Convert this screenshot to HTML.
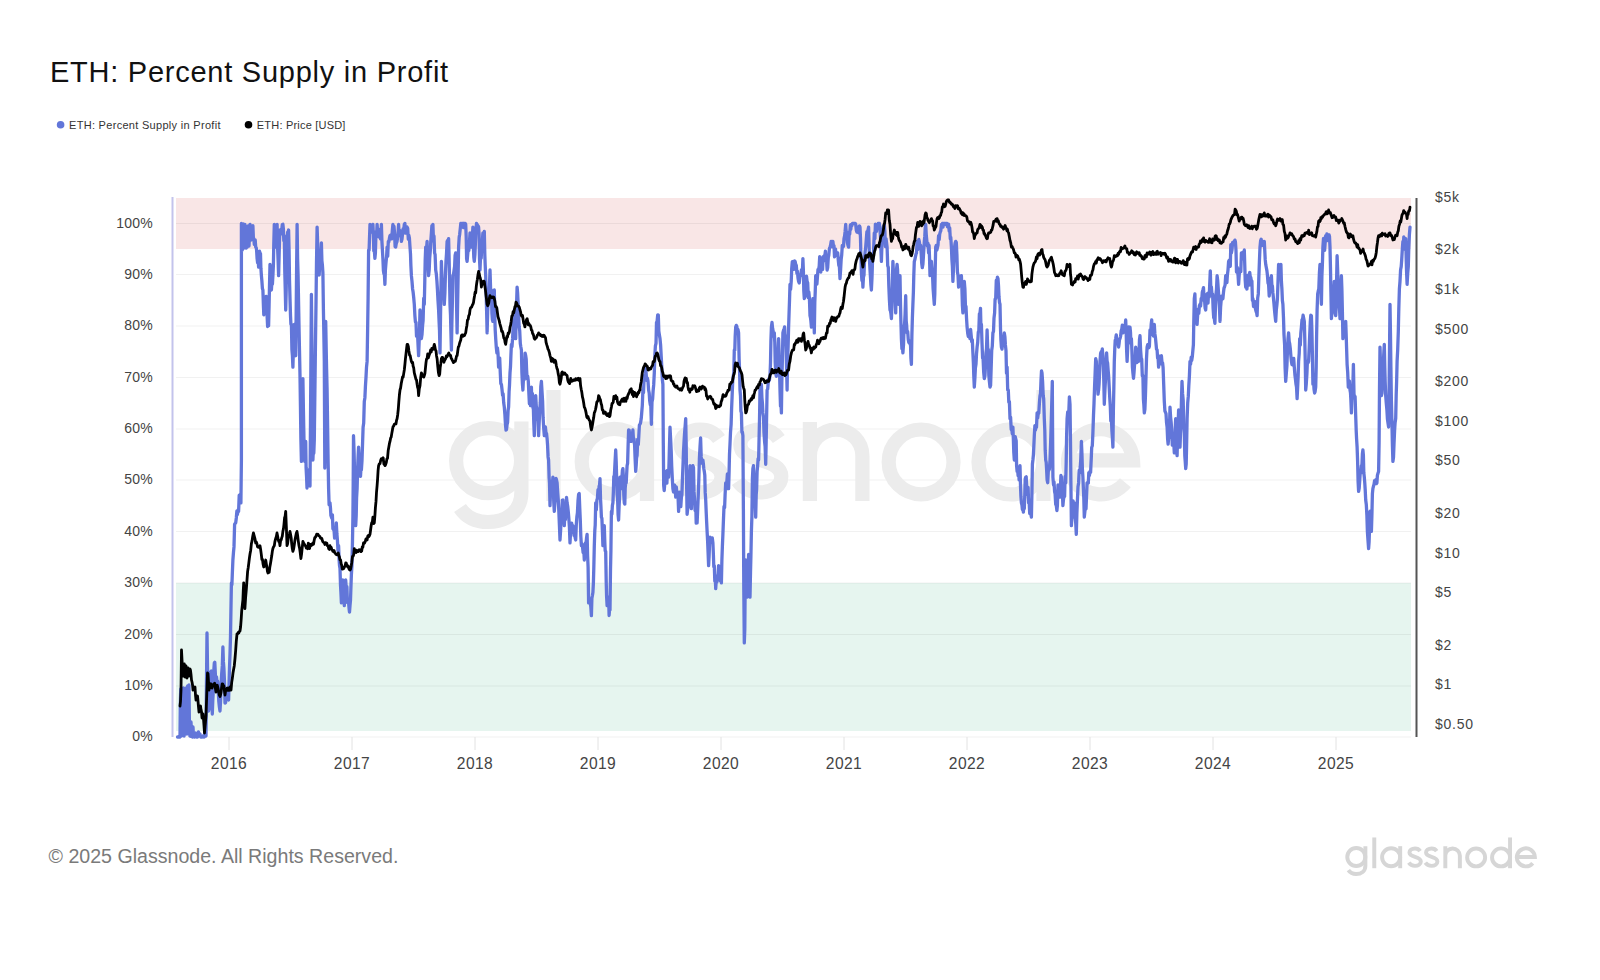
<!DOCTYPE html>
<html><head><meta charset="utf-8">
<style>
html,body{margin:0;padding:0;background:#fff;width:1600px;height:980px;overflow:hidden;}
body{font-family:"Liberation Sans",sans-serif;position:relative;}
svg{position:absolute;left:0;top:0;}
</style></head><body>
<svg width="1600" height="980" viewBox="0 0 1600 980" font-family="Liberation Sans, sans-serif">
<!-- title -->
<text x="50" y="82.3" font-size="29" fill="#111" letter-spacing="0.75">ETH: Percent Supply in Profit</text>
<!-- legend -->
<circle cx="60.6" cy="124.8" r="3.8" fill="#6276d9"/>
<text x="69" y="128.5" font-size="11" fill="#333" letter-spacing="0.3">ETH: Percent Supply in Profit</text>
<circle cx="248.5" cy="124.8" r="3.8" fill="#000"/>
<text x="256.8" y="128.5" font-size="11" fill="#333" letter-spacing="0.2">ETH: Price [USD]</text>

<!-- bands -->
<rect x="176" y="198" width="1235" height="51" fill="#f9e6e6"/>
<rect x="176" y="583" width="1235" height="148" fill="#e6f5ef"/>
<!-- gridlines -->
<g stroke="#000" stroke-opacity="0.055" stroke-width="1">
<line x1="176" y1="223.5" x2="1411" y2="223.5"/>
<line x1="176" y1="274.5" x2="1411" y2="274.5"/>
<line x1="176" y1="326" x2="1411" y2="326"/>
<line x1="176" y1="377.5" x2="1411" y2="377.5"/>
<line x1="176" y1="429" x2="1411" y2="429"/>
<line x1="176" y1="480" x2="1411" y2="480"/>
<line x1="176" y1="531.5" x2="1411" y2="531.5"/>
<line x1="176" y1="583" x2="1411" y2="583"/>
<line x1="176" y1="634.5" x2="1411" y2="634.5"/>
<line x1="176" y1="686" x2="1411" y2="686"/>
<line x1="176" y1="737" x2="1411" y2="737"/>
</g>
<!-- x ticks -->
<g stroke="#e2e2e2" stroke-width="1">
<line x1="229" y1="737" x2="229" y2="750"/>
<line x1="352" y1="737" x2="352" y2="750"/>
<line x1="475" y1="737" x2="475" y2="750"/>
<line x1="598" y1="737" x2="598" y2="750"/>
<line x1="721" y1="737" x2="721" y2="750"/>
<line x1="844" y1="737" x2="844" y2="750"/>
<line x1="967" y1="737" x2="967" y2="750"/>
<line x1="1090" y1="737" x2="1090" y2="750"/>
<line x1="1213" y1="737" x2="1213" y2="750"/>
<line x1="1336" y1="737" x2="1336" y2="750"/>
</g>
<!-- watermark -->
<defs><g id="gn" fill="none" stroke-width="14.2">
<circle cx="488.6" cy="460.7" r="32.5"/>
<path d="M521.4 421.4V492C521.4 512 506 522 488 522C476 522 466 517 460 508"/>
<path d="M553.5 390V501"/>
<circle cx="614.3" cy="461.5" r="32.6"/>
<path d="M647 421.4V501"/>
<path d="M719 439C715 433 708 429.6 700.5 429.6C689 429.6 680.5 436 680.5 444.5C680.5 454 690 457 700.5 460C712 463.5 721.5 467 721.5 476.5C721.5 486 712 492.4 700.5 492.4C690 492.4 682 487 678 481"/>
<path d="M778.8 439C774.8 433 767.8 429.6 760.3 429.6C748.8 429.6 740.3 436 740.3 444.5C740.3 454 749.8 457 760.3 460C771.8 463.5 781.3 467 781.3 476.5C781.3 486 771.8 492.4 760.3 492.4C749.8 492.4 741.8 487 737.8 481"/>
<path d="M809.9 422V501M809.9 455.9A26.25 26.25 0 0 1 862.4 455.9V501"/>
<circle cx="921.1" cy="461.9" r="32.4"/>
<circle cx="1011" cy="461.9" r="32.5"/>
<path d="M1043.5 390V501"/>
<path d="M1068 460.3H1133A32.5 32.5 0 1 0 1125.4 482.8"/>
</g></defs>
<use href="#gn" stroke="#ececec"/>

<!-- axes -->
<line x1="172.5" y1="197" x2="172.5" y2="737" stroke="#c3c3ec" stroke-width="2"/>
<line x1="1416.5" y1="198" x2="1416.5" y2="737" stroke="#555" stroke-width="2"/>

<!-- left labels -->
<g font-size="14" fill="#444" text-anchor="end" letter-spacing="0.25">
<text x="153" y="227.5">100%</text>
<text x="153" y="279">90%</text>
<text x="153" y="330.4">80%</text>
<text x="153" y="381.7">70%</text>
<text x="153" y="433">60%</text>
<text x="153" y="484.4">50%</text>
<text x="153" y="535.8">40%</text>
<text x="153" y="587.1">30%</text>
<text x="153" y="638.5">20%</text>
<text x="153" y="689.8">10%</text>
<text x="153" y="741.2">0%</text>
</g>
<!-- right labels -->
<g font-size="14" fill="#444" letter-spacing="0.75">
<text x="1435" y="202">$5k</text>
<text x="1435" y="254.4">$2k</text>
<text x="1435" y="294">$1k</text>
<text x="1435" y="333.6">$500</text>
<text x="1435" y="386">$200</text>
<text x="1435" y="425.7">$100</text>
<text x="1435" y="465.4">$50</text>
<text x="1435" y="517.8">$20</text>
<text x="1435" y="557.5">$10</text>
<text x="1435" y="597.2">$5</text>
<text x="1435" y="649.6">$2</text>
<text x="1435" y="689.3">$1</text>
<text x="1435" y="729">$0.50</text>
</g>
<!-- x labels -->
<g font-size="15.6" fill="#444" text-anchor="middle" letter-spacing="0.4">
<text x="229" y="769.4">2016</text>
<text x="352" y="769.4">2017</text>
<text x="475" y="769.4">2018</text>
<text x="598" y="769.4">2019</text>
<text x="721" y="769.4">2020</text>
<text x="844" y="769.4">2021</text>
<text x="967" y="769.4">2022</text>
<text x="1090" y="769.4">2023</text>
<text x="1213" y="769.4">2024</text>
<text x="1336" y="769.4">2025</text>
</g>

<!-- DATA -->
<path d="M177.5 737.0L178.0 737.0L178.5 737.0L179.0 737.0L179.5 736.0L180.0 737.0L180.3 707.0L180.7 689.0L181.0 709.7L181.3 736.0L181.7 706.5L182.0 690.0L182.3 701.6L182.7 734.0L183.1 706.8L183.4 688.0L183.8 710.6L184.1 736.0L184.4 715.0L184.8 690.0L185.2 706.4L185.5 730.0L185.8 707.2L186.2 688.0L186.6 709.8L186.9 734.0L187.2 701.9L187.6 686.0L187.9 704.1L188.3 725.0L188.7 705.9L189.0 685.0L189.4 722.9L189.9 736.0L190.4 736.2L191.0 722.0L191.5 731.9L192.0 736.0L192.5 737.0L193.0 727.0L193.5 736.3L194.0 736.0L194.5 737.0L195.0 736.1L195.5 735.7L196.0 733.0L196.5 737.0L197.0 737.0L197.5 737.0L198.0 736.0L198.5 732.0L199.0 735.5L199.5 735.1L200.0 734.0L200.6 737.0L201.2 737.0L201.8 737.0L202.4 737.0L203.0 736.0L203.6 737.0L204.2 737.0L204.8 732.9L205.4 732.4L206.0 736.0L206.5 680.2L207.0 633.0L207.5 666.8L208.1 688.4L208.6 711.0L209.2 708.0L209.7 700.6L210.3 688.4L210.8 671.9L211.4 671.0L211.9 693.8L212.3 714.0L212.8 699.9L213.3 691.4L213.8 670.7L214.3 663.0L214.8 662.3L215.4 674.9L215.9 684.1L216.5 677.0L217.0 683.0L217.6 681.0L218.2 690.2L218.8 701.4L219.4 707.0L220.0 711.0L220.6 700.5L221.2 681.6L221.7 673.6L222.3 665.9L222.9 647.0L223.4 661.9L223.9 668.3L224.5 681.8L225.0 703.0L225.6 702.7L226.2 693.4L226.8 696.8L227.4 693.7L228.0 696.2L228.6 700.0L229.1 681.3L229.5 667.7L230.0 654.0L230.5 637.0L230.9 612.1L231.4 583.0L231.9 584.7L232.4 571.7L232.9 560.0L233.5 552.2L234.0 546.9L234.6 524.4L235.1 523.5L235.7 522.9L236.3 518.0L236.9 510.8L237.4 514.6L238.0 510.2L238.6 511.4L239.2 495.2L239.8 499.1L240.3 496.1L240.9 502.9L241.4 460.0L241.4 223.4L241.9 229.4L242.3 250.0L242.8 232.7L243.2 224.0L243.6 240.1L244.0 248.0L244.4 238.7L244.9 224.3L245.4 235.8L245.8 245.0L246.2 248.2L246.7 238.6L247.1 247.1L247.6 238.8L248.0 226.0L248.5 231.8L249.0 246.0L249.5 235.2L250.0 224.3L250.5 226.6L251.0 240.0L251.5 228.7L251.9 227.0L252.4 235.8L252.9 225.7L253.4 238.7L253.8 238.5L254.3 244.3L254.8 244.0L255.2 239.8L255.7 247.1L256.2 247.6L256.6 250.2L257.1 258.6L257.6 262.8L258.1 258.1L258.6 267.1L259.1 257.6L259.5 251.1L260.0 252.9L260.5 253.6L260.9 268.2L261.4 275.7L261.9 281.2L262.4 288.5L262.9 290.0L263.4 305.2L263.8 314.8L264.3 312.9L264.8 306.0L265.2 305.0L265.7 298.6L266.2 296.3L266.6 305.7L267.1 315.7L267.6 326.5L268.1 325.1L268.6 325.7L269.1 304.8L269.5 285.4L270.0 264.3L270.5 273.3L270.9 281.8L271.4 290.0L271.9 281.6L272.4 284.1L272.9 275.7L273.4 264.8L273.8 243.5L274.3 224.3L274.8 234.5L275.2 244.1L275.7 247.1L276.2 247.0L276.6 237.6L277.1 224.3L277.6 247.8L278.1 260.4L278.6 275.7L279.1 256.0L279.5 240.5L280.0 230.0L280.6 231.6L281.2 234.0L281.7 230.4L282.3 224.5L282.9 224.3L283.4 229.2L283.8 240.8L284.3 235.7L284.8 271.7L285.2 287.4L285.7 310.0L286.2 289.9L286.6 261.2L287.1 247.1L287.6 232.3L288.1 232.1L288.6 230.0L289.1 251.2L289.5 279.7L290.0 298.6L290.5 315.5L290.9 324.1L291.4 324.3L291.9 349.3L292.4 355.5L292.9 367.1L293.4 348.5L293.8 338.9L294.3 324.3L294.8 348.3L295.2 353.8L295.7 355.7L296.2 310.4L296.6 268.6L297.1 224.3L297.6 258.3L298.1 276.1L298.6 304.3L299.1 331.4L299.5 350.5L300.0 375.7L300.5 409.9L300.9 439.6L301.4 461.4L301.9 438.7L302.4 418.6L302.9 378.6L303.4 409.4L303.8 430.6L304.3 458.6L304.8 461.5L305.2 447.1L305.7 441.4L306.1 467.9L306.6 477.7L307.0 488.0L307.5 479.5L308.1 474.7L308.6 470.0L309.1 475.3L309.5 481.7L310.0 486.0L310.5 421.6L310.9 363.4L311.4 294.3L311.9 340.5L312.4 397.5L312.9 460.0L313.4 448.4L313.8 453.3L314.3 440.0L314.9 390.8L315.4 349.8L316.0 304.0L316.5 262.2L317.1 227.1L317.6 241.8L318.1 259.4L318.6 272.9L319.2 275.0L319.7 262.0L320.3 256.8L320.8 255.7L321.4 242.9L321.9 260.8L322.4 265.2L322.9 272.9L323.4 309.2L323.8 330.7L324.3 361.4L324.8 468.0L325.2 403.1L325.7 321.4L326.2 349.2L326.6 369.1L327.1 390.0L327.6 425.2L328.1 461.1L328.6 488.6L329.1 504.8L329.5 503.1L330.0 502.9L330.5 508.3L330.9 515.6L331.4 517.1L331.9 518.2L332.4 514.9L332.9 528.6L333.5 529.6L334.0 529.7L334.6 538.2L335.1 532.5L335.7 537.1L336.3 522.9L336.9 534.0L337.4 539.8L338.0 550.7L338.6 545.7L339.1 559.3L339.5 565.5L340.0 568.6L340.5 585.2L340.9 592.2L341.4 602.9L341.9 596.0L342.4 581.3L342.9 580.0L343.4 588.0L343.8 592.8L344.3 605.7L344.8 592.7L345.2 589.9L345.7 580.0L346.3 589.8L346.9 586.7L347.4 602.5L348.0 599.8L348.6 602.9L349.1 608.7L349.5 612.0L350.0 605.7L350.5 600.0L350.9 588.0L351.4 574.3L351.9 565.8L352.4 545.9L352.9 517.1L353.2 483.5L353.5 435.7L354.1 452.6L354.6 474.2L355.1 505.8L355.7 525.7L356.2 515.6L356.6 497.3L357.1 488.6L357.6 469.7L358.1 456.9L358.6 447.1L359.1 456.1L359.5 465.0L360.0 470.0L360.5 476.3L360.9 469.1L361.4 470.0L362.0 460.7L362.6 442.3L363.1 427.2L363.7 423.0L364.3 401.4L364.9 397.7L365.4 386.9L366.0 377.1L366.5 367.3L367.1 361.4L367.6 331.0L368.1 297.4L368.6 250.0L369.1 250.1L369.5 238.1L370.0 224.3L370.6 232.2L371.2 227.8L371.7 228.3L372.3 228.3L372.9 224.3L373.4 235.3L373.8 250.9L374.3 250.0L374.9 258.4L375.4 253.1L376.0 231.7L376.5 237.2L377.1 224.3L377.7 233.4L378.3 229.2L378.8 230.1L379.4 237.2L380.0 232.9L380.5 238.9L380.9 235.9L381.4 224.3L381.9 240.8L382.4 249.9L382.9 258.6L383.4 270.5L383.9 273.8L384.4 274.5L384.9 284.3L385.4 270.2L386.0 262.6L386.6 256.5L387.1 247.1L387.7 256.2L388.3 241.4L388.8 242.1L389.4 238.4L390.0 235.7L390.6 235.1L391.2 238.8L391.7 238.9L392.3 230.8L392.9 224.3L393.5 228.2L394.0 226.3L394.6 234.0L395.1 246.8L395.7 247.1L396.3 243.3L396.9 241.9L397.4 238.9L398.0 233.6L398.6 224.3L399.2 235.5L399.7 234.5L400.3 232.1L400.8 230.9L401.4 241.4L402.0 239.1L402.6 233.3L403.1 229.0L403.7 230.8L404.3 224.3L404.9 223.4L405.4 233.1L406.0 233.1L406.5 227.5L407.1 227.1L407.7 228.4L408.3 239.2L408.8 235.2L409.4 238.0L410.0 247.1L410.5 254.1L410.9 265.9L411.4 275.7L412.0 281.4L412.6 289.0L413.1 292.0L413.7 297.5L414.3 304.3L414.9 315.8L415.4 321.9L416.0 322.3L416.5 336.2L417.1 332.9L417.6 335.0L418.1 345.8L418.6 355.7L419.1 342.7L419.5 331.2L420.0 310.0L420.5 323.1L420.9 328.9L421.4 338.6L422.0 334.6L422.6 325.3L423.1 320.6L423.7 298.2L424.3 304.3L424.8 280.6L425.2 259.9L425.7 247.1L426.2 246.8L426.6 247.8L427.1 241.4L427.6 258.7L428.1 265.2L428.6 275.7L429.2 269.8L429.7 258.2L430.3 250.9L430.8 241.2L431.4 232.9L431.9 225.6L432.4 234.8L432.9 224.3L433.5 240.9L434.0 236.0L434.6 252.9L435.1 254.5L435.7 270.0L436.3 273.7L436.9 280.9L437.4 288.8L438.0 300.6L438.6 310.0L439.1 322.0L439.5 330.2L440.0 352.9L440.5 318.2L440.9 291.6L441.4 261.4L442.0 278.7L442.6 280.8L443.1 282.3L443.7 291.4L444.3 304.3L444.9 292.8L445.4 275.3L446.0 261.0L446.5 254.0L447.1 241.4L447.6 240.4L448.1 240.6L448.6 238.6L449.1 257.9L449.5 277.0L450.0 304.3L450.5 315.2L450.9 331.8L451.4 350.0L451.9 322.1L452.4 301.1L452.9 275.7L453.5 274.2L454.0 270.8L454.6 266.5L455.1 255.3L455.7 252.9L456.2 272.9L456.6 306.9L457.1 332.9L457.6 304.7L458.1 276.5L458.6 247.1L459.2 237.1L459.7 234.2L460.3 228.4L460.8 223.4L461.4 224.3L461.9 223.4L462.5 223.4L463.0 223.4L463.5 227.7L464.1 223.4L464.6 223.8L465.2 223.4L465.7 224.3L466.2 237.2L466.6 258.6L467.1 261.4L467.7 254.3L468.3 248.2L468.8 250.5L469.4 243.5L470.0 232.9L470.5 240.7L470.9 233.7L471.4 247.1L471.9 235.3L472.4 235.8L472.9 227.1L473.4 246.7L473.8 257.3L474.3 261.4L474.9 254.7L475.4 243.5L476.0 228.5L476.5 223.4L477.1 224.3L477.6 225.5L478.1 225.7L478.6 227.1L479.1 234.5L479.5 258.8L480.0 270.0L480.6 255.8L481.2 258.1L481.7 247.6L482.3 241.9L482.9 232.9L483.4 236.6L483.8 235.3L484.3 231.4L484.8 254.2L485.2 265.0L485.7 275.7L486.2 295.2L486.6 310.7L487.1 332.9L487.7 311.5L488.3 299.9L488.8 296.1L489.4 287.2L490.0 270.0L490.5 285.9L490.9 301.6L491.4 290.0L491.9 313.2L492.4 319.8L492.9 321.4L493.4 308.8L493.8 298.2L494.3 290.0L494.8 316.0L495.2 330.0L495.7 338.6L496.3 347.4L496.9 353.1L497.4 347.8L498.0 353.3L498.6 367.1L499.2 359.9L499.7 358.0L500.3 373.3L500.8 383.6L501.4 384.3L502.0 389.4L502.6 395.4L503.1 393.9L503.7 402.8L504.3 407.1L504.9 414.5L505.4 423.6L506.0 430.0L506.5 429.6L507.1 424.3L507.6 422.3L508.1 410.6L508.6 407.1L509.1 391.5L509.5 385.3L510.0 372.9L510.5 366.7L510.9 355.6L511.4 344.3L512.0 346.6L512.6 338.4L513.1 327.7L513.7 317.9L514.3 310.0L514.8 320.4L515.2 324.8L515.7 338.6L516.2 314.4L516.6 302.5L517.1 287.1L517.6 292.8L518.1 302.9L518.6 315.7L519.2 327.0L519.7 330.7L520.3 343.5L520.8 346.7L521.4 350.0L521.9 372.7L522.4 383.7L522.9 390.0L523.5 377.9L524.0 379.8L524.6 370.2L525.1 353.1L525.7 355.7L526.2 359.2L526.6 369.7L527.1 378.6L527.7 376.1L528.3 381.1L528.8 391.7L529.4 403.6L530.0 401.4L530.5 405.7L530.9 402.5L531.4 387.1L531.9 404.7L532.4 393.5L532.9 407.1L533.4 409.5L533.8 423.5L534.3 435.7L534.8 407.6L535.2 405.5L535.7 395.7L536.3 406.4L536.9 409.2L537.4 416.5L538.0 421.4L538.6 435.7L539.2 421.6L539.7 412.2L540.3 402.2L540.8 386.7L541.4 381.4L542.0 391.4L542.6 401.0L543.1 417.7L543.7 428.2L544.3 435.7L544.9 430.6L545.4 426.8L546.0 432.8L546.5 433.3L547.1 438.6L547.6 445.7L548.1 456.9L548.6 460.0L549.1 477.3L549.5 483.1L550.0 505.7L550.6 490.3L551.2 492.3L551.7 482.3L552.3 485.2L552.9 477.1L553.4 489.3L553.8 502.9L554.3 511.4L554.9 502.8L555.4 498.0L556.0 478.5L556.5 479.7L557.1 482.9L557.7 492.7L558.3 500.5L558.8 510.3L559.4 524.9L560.0 540.0L560.6 530.5L561.2 519.2L561.7 517.0L562.3 500.3L562.9 500.0L563.4 510.3L563.8 511.0L564.3 525.7L564.9 513.9L565.4 519.6L566.0 508.6L566.5 497.5L567.1 502.9L567.7 506.3L568.3 512.0L568.8 517.9L569.4 526.9L570.0 542.9L570.6 531.7L571.2 527.3L571.7 523.1L572.3 532.4L572.9 525.7L573.5 526.9L574.0 535.4L574.6 529.3L575.1 537.3L575.7 540.0L576.3 524.7L576.9 516.4L577.4 513.1L578.0 501.0L578.6 494.3L579.2 493.6L579.7 506.6L580.3 520.2L580.8 535.8L581.4 545.7L582.0 543.8L582.6 547.5L583.1 552.6L583.7 548.1L584.3 560.0L584.9 549.8L585.4 543.0L586.0 543.4L586.5 538.3L587.1 534.3L587.6 555.8L588.1 567.3L588.6 602.9L589.2 598.5L589.7 602.7L590.3 603.2L590.8 606.9L591.4 615.7L591.9 598.1L592.4 595.5L592.9 592.5L593.4 582.9L593.8 568.0L594.3 545.7L594.8 530.7L595.2 525.2L595.7 502.9L596.3 510.0L596.9 500.0L597.4 498.4L598.0 489.6L598.6 497.1L599.1 486.0L599.5 485.9L600.0 478.6L600.5 498.3L600.9 505.6L601.4 517.1L601.9 518.4L602.4 531.2L602.9 545.7L603.4 543.3L603.8 535.2L604.3 525.7L604.8 542.1L605.2 550.9L605.7 551.4L606.2 581.3L606.6 596.5L607.1 605.7L607.6 604.0L608.1 602.8L608.6 597.1L609.1 615.5L609.5 610.2L610.0 610.0L610.5 570.1L610.9 551.3L611.4 511.4L611.9 514.1L612.4 505.4L612.9 502.9L613.4 491.1L613.8 476.4L614.3 477.1L614.8 466.9L615.2 459.2L615.7 450.0L616.2 461.7L616.6 475.9L617.1 494.3L617.6 498.9L618.1 514.8L618.6 520.0L619.1 506.5L619.5 498.7L620.0 477.1L620.5 480.4L620.9 481.4L621.4 488.6L621.9 477.9L622.4 470.5L622.9 468.6L623.4 477.2L623.8 495.2L624.3 502.9L624.8 504.1L625.2 488.2L625.7 482.9L626.2 482.9L626.6 474.8L627.1 465.7L627.6 463.4L628.1 445.9L628.6 430.0L629.2 430.1L629.7 437.4L630.3 441.4L630.8 439.1L631.4 441.4L631.9 437.7L632.4 434.5L632.9 430.0L633.5 440.2L634.0 438.9L634.6 445.0L635.1 458.5L635.7 471.4L636.2 465.1L636.6 457.8L637.1 455.7L637.7 439.1L638.3 444.7L638.8 436.1L639.4 425.0L640.0 424.3L640.6 422.6L641.2 418.8L641.7 413.0L642.3 405.7L642.9 390.0L643.5 392.7L644.0 379.6L644.6 375.8L645.1 373.2L645.7 367.1L646.3 375.6L646.9 380.6L647.4 378.0L648.0 381.0L648.6 390.0L649.2 393.0L649.7 400.8L650.3 404.8L650.8 405.4L651.4 424.3L652.0 401.9L652.6 399.2L653.1 391.2L653.7 384.9L654.3 372.9L654.9 354.0L655.4 345.9L656.0 343.3L656.5 322.5L657.1 321.4L657.7 314.8L658.3 315.0L658.8 331.1L659.4 335.0L660.0 338.6L660.6 344.8L661.2 356.2L661.7 365.2L662.3 379.3L662.9 384.3L663.3 442.9L663.7 485.7L664.2 490.7L664.7 484.5L665.2 481.8L665.7 471.4L666.3 480.0L666.9 483.2L667.4 470.4L668.0 475.5L668.6 477.1L669.1 460.6L669.5 444.6L670.0 427.1L670.6 438.6L671.2 450.9L671.7 466.1L672.3 478.3L672.9 488.6L673.5 492.0L674.0 487.5L674.6 485.2L675.1 487.4L675.7 497.1L676.3 487.0L676.9 493.8L677.4 496.9L678.0 495.2L678.6 511.4L679.2 492.2L679.7 495.1L680.3 494.7L680.8 506.7L681.4 497.1L681.9 495.0L682.5 477.4L683.0 465.1L683.5 451.5L684.1 440.9L684.6 432.9L685.2 425.5L685.7 418.6L686.2 445.9L686.6 484.2L687.1 514.3L687.7 508.7L688.3 506.7L688.8 484.5L689.4 478.5L690.0 465.7L690.5 479.7L690.9 486.1L691.4 508.6L691.9 488.7L692.4 469.0L692.9 465.7L693.5 467.5L694.0 491.4L694.6 500.0L695.1 510.5L695.7 502.9L696.2 523.1L696.6 515.2L697.1 522.9L697.7 509.3L698.3 494.1L698.8 480.3L699.4 458.5L700.0 447.1L700.6 437.9L701.2 456.9L701.7 463.1L702.3 463.1L702.9 460.0L703.4 464.2L703.8 468.7L704.3 471.4L704.8 475.3L705.2 492.4L705.7 500.0L706.2 512.3L706.6 521.1L707.1 531.4L707.6 540.8L708.1 552.9L708.6 565.7L709.1 556.1L709.5 544.6L710.0 537.1L710.6 542.1L711.2 542.4L711.7 541.6L712.3 537.9L712.9 542.9L713.4 554.7L713.8 566.7L714.3 565.7L714.8 581.1L715.2 575.6L715.7 588.6L716.3 579.6L716.9 582.2L717.4 576.4L718.0 577.4L718.6 565.7L719.2 570.5L719.7 577.3L720.3 581.0L720.8 569.7L721.4 582.9L721.9 559.8L722.4 545.9L722.9 534.3L723.5 518.6L724.0 506.5L724.6 507.8L725.1 494.8L725.7 482.9L726.3 488.8L726.9 480.9L727.4 473.8L728.0 478.8L728.6 488.6L729.1 471.4L729.5 454.1L730.0 444.0L730.5 432.5L731.1 424.6L731.6 408.6L732.1 396.6L732.7 381.4L733.2 377.0L733.8 372.3L734.3 350.0L734.8 350.1L735.2 336.1L735.7 327.1L736.3 325.4L736.9 326.6L737.4 333.6L738.0 329.5L738.6 332.9L739.1 358.2L739.5 368.0L740.0 390.0L740.5 396.1L740.9 411.1L741.4 412.9L741.9 432.3L742.4 432.0L742.9 435.7L743.4 510.7L743.8 589.4L744.3 642.9L744.8 628.9L745.2 583.5L745.7 560.0L746.2 571.7L746.6 596.3L747.1 597.1L747.6 582.8L748.1 573.1L748.6 554.3L749.1 560.4L749.5 586.7L750.0 597.1L750.5 572.9L750.9 556.2L751.4 531.4L751.9 516.5L752.4 478.6L752.9 468.6L753.5 465.7L754.0 483.3L754.6 487.8L755.1 502.3L755.7 517.1L756.2 494.6L756.6 489.7L757.1 471.4L757.6 466.6L758.1 458.7L758.6 460.0L759.1 437.3L759.5 419.8L760.0 390.0L760.5 390.5L760.9 388.8L761.4 384.3L761.9 397.6L762.4 402.8L762.9 412.9L763.5 417.0L764.0 433.0L764.6 441.7L765.1 446.2L765.7 464.3L766.2 439.9L766.6 417.1L767.1 390.0L767.7 389.0L768.3 381.5L768.8 378.9L769.4 380.3L770.0 375.7L770.5 362.8L770.9 340.8L771.4 327.1L772.0 322.5L772.6 328.3L773.1 330.9L773.7 336.2L774.3 332.9L774.8 342.6L775.2 362.4L775.7 372.9L776.3 376.3L776.9 369.0L777.4 357.9L778.0 352.8L778.6 338.6L779.1 353.0L779.5 369.3L780.0 390.0L780.5 406.1L780.9 401.3L781.4 412.9L781.9 378.5L782.4 359.8L782.9 332.9L783.5 330.3L784.0 329.6L784.6 326.8L785.1 339.7L785.7 335.7L786.2 353.0L786.6 370.1L787.1 390.0L787.6 359.1L788.1 346.9L788.6 327.1L789.1 312.2L789.5 300.8L790.0 284.3L790.6 289.3L791.2 281.6L791.7 269.0L792.3 261.6L792.9 264.3L793.5 261.3L794.0 269.4L794.6 260.9L795.1 261.4L795.7 264.3L796.3 265.5L796.9 273.3L797.4 271.2L798.0 277.9L798.6 281.4L799.2 283.0L799.7 278.6L800.3 274.9L800.8 275.6L801.4 270.0L801.9 270.7L802.4 271.0L802.9 258.6L803.4 270.8L803.8 290.9L804.3 298.6L804.9 296.8L805.4 286.9L806.0 283.1L806.5 276.1L807.1 281.4L807.7 282.9L808.3 297.6L808.8 292.0L809.4 297.9L810.0 315.7L810.5 317.9L810.9 321.0L811.4 327.1L811.9 320.4L812.4 302.9L812.9 298.6L813.4 307.2L813.8 307.0L814.3 332.9L814.8 302.4L815.2 292.7L815.7 275.7L816.3 279.6L816.9 284.1L817.4 277.3L818.0 269.3L818.6 270.0L819.2 266.0L819.7 256.7L820.3 267.8L820.8 272.0L821.4 264.3L822.0 261.3L822.6 269.4L823.1 256.6L823.7 259.0L824.3 255.7L824.9 255.3L825.4 251.1L826.0 261.1L826.5 259.8L827.1 270.0L827.7 267.7L828.3 257.5L828.8 255.1L829.4 248.7L830.0 247.1L830.6 245.2L831.2 241.3L831.7 246.0L832.3 246.8L832.9 241.4L833.4 245.6L834.0 245.6L834.5 256.9L835.0 250.1L835.5 248.9L836.0 255.3L836.6 255.4L837.1 255.7L837.7 252.9L838.3 260.4L838.8 265.3L839.4 267.0L840.0 278.6L840.6 269.8L841.2 259.0L841.7 255.0L842.3 245.4L842.9 247.1L843.5 246.3L844.0 238.5L844.6 235.9L845.1 231.5L845.7 224.3L846.3 233.7L846.9 235.1L847.4 242.6L848.0 245.5L848.6 247.1L849.2 231.8L849.7 234.2L850.3 225.0L850.8 229.4L851.4 224.3L851.9 225.7L852.5 223.4L853.0 223.4L853.5 223.4L854.1 223.4L854.6 223.4L855.2 223.4L855.7 224.3L856.3 230.2L856.9 232.1L857.4 231.2L858.0 227.1L858.6 232.9L859.1 227.2L859.5 226.0L860.0 227.1L860.5 238.6L860.9 255.4L861.4 272.9L861.9 280.5L862.4 275.0L862.9 287.1L863.5 276.5L864.0 275.3L864.6 258.4L865.1 251.8L865.7 247.1L866.3 239.5L866.9 231.6L867.4 236.1L868.0 230.0L868.6 227.1L869.1 246.6L869.5 260.3L870.0 270.0L870.5 277.6L870.9 285.2L871.4 290.0L872.0 277.6L872.6 258.5L873.1 258.5L873.7 247.5L874.3 232.9L874.9 238.6L875.4 224.1L876.0 230.3L876.5 231.4L877.1 224.3L877.7 227.9L878.3 223.4L878.8 223.5L879.4 223.4L880.0 230.0L880.5 236.8L880.9 249.4L881.4 261.4L881.9 245.6L882.4 237.2L882.9 230.0L883.4 226.5L883.8 232.7L884.3 224.3L884.9 231.6L885.4 246.5L886.0 238.6L886.5 242.2L887.1 247.1L887.7 265.7L888.3 267.4L888.8 285.5L889.4 299.7L890.0 310.0L890.5 311.0L890.9 313.6L891.4 318.6L891.9 306.2L892.4 281.6L892.9 261.4L893.5 273.6L894.0 285.1L894.6 299.9L895.1 296.1L895.7 312.9L896.2 286.1L896.6 268.5L897.1 264.3L897.6 270.2L898.1 290.3L898.6 304.3L899.1 298.6L899.5 285.7L900.0 275.7L900.5 304.5L900.9 321.2L901.4 338.6L901.9 348.6L902.4 346.9L902.9 352.9L903.5 345.0L904.0 328.2L904.6 323.5L905.1 313.9L905.7 295.7L906.2 320.8L906.6 324.7L907.1 332.9L907.7 331.5L908.3 339.8L908.8 342.5L909.4 340.7L910.0 344.3L910.5 343.6L910.9 358.0L911.4 364.3L911.9 334.7L912.4 317.2L912.9 304.3L913.4 291.8L913.8 275.3L914.3 261.4L914.9 259.5L915.4 256.9L916.0 254.1L916.5 253.1L917.1 241.4L917.7 249.6L918.3 245.4L918.8 239.5L919.4 241.9L920.0 247.1L920.6 245.2L921.2 253.3L921.7 263.2L922.3 267.7L922.9 264.3L923.4 256.6L923.8 250.0L924.3 241.4L924.8 236.2L925.2 227.9L925.7 224.3L926.3 235.5L926.9 241.5L927.4 246.2L928.0 243.4L928.6 252.9L929.1 245.5L929.5 256.9L930.0 275.7L930.5 271.0L930.9 265.1L931.4 261.4L932.0 269.3L932.6 276.9L933.1 288.7L933.7 296.5L934.3 304.3L934.8 294.2L935.2 270.0L935.7 247.1L936.3 245.4L936.9 250.0L937.4 247.7L938.0 245.2L938.6 235.7L939.2 239.7L939.7 234.1L940.3 231.9L940.8 230.8L941.4 224.3L941.9 226.9L942.5 223.4L943.0 227.1L943.5 223.4L944.1 223.4L944.6 223.4L945.2 223.4L945.7 224.3L946.3 223.4L946.9 223.4L947.4 226.8L948.0 224.0L948.6 224.3L949.2 231.1L949.7 227.8L950.3 238.9L950.8 237.3L951.4 247.1L951.9 259.4L952.4 266.7L952.9 281.4L953.5 268.8L954.0 256.8L954.6 246.8L955.1 243.0L955.7 241.4L956.3 242.4L956.9 254.5L957.4 271.9L958.0 275.3L958.6 287.1L959.2 281.9L959.7 280.6L960.3 276.2L960.8 275.8L961.4 275.7L961.9 288.2L962.4 305.7L962.9 312.9L963.4 301.4L963.8 290.3L964.3 281.4L964.9 288.9L965.4 305.0L966.0 306.5L966.5 317.6L967.1 327.1L967.7 333.1L968.3 336.5L968.8 332.8L969.4 330.6L970.0 338.6L970.6 329.3L971.2 335.6L971.7 341.5L972.3 339.7L972.9 352.9L973.4 363.4L973.8 376.0L974.3 387.1L974.9 378.1L975.4 367.9L976.0 363.9L976.5 354.1L977.1 347.1L977.7 342.3L978.3 332.0L978.8 331.2L979.4 313.9L980.0 312.9L980.5 308.4L980.9 325.4L981.4 324.3L982.0 342.8L982.6 358.0L983.1 358.9L983.7 372.4L984.3 378.6L984.9 376.2L985.4 367.4L986.0 352.6L986.5 348.7L987.1 330.0L987.7 348.0L988.3 349.6L988.8 375.0L989.4 381.7L990.0 387.1L990.6 385.5L991.2 366.6L991.7 350.5L992.3 346.1L992.9 332.9L993.5 331.3L994.0 318.1L994.6 313.0L995.1 299.2L995.7 298.6L996.3 280.2L996.9 287.3L997.4 277.2L998.0 278.6L998.5 285.6L999.0 297.0L999.5 302.5L1000.0 304.3L1000.5 328.5L1000.9 339.6L1001.4 347.1L1002.0 349.1L1002.6 343.9L1003.1 341.9L1003.7 339.2L1004.3 332.9L1004.9 336.8L1005.4 344.9L1006.0 350.7L1006.5 373.1L1007.1 367.1L1007.7 390.0L1008.3 390.0L1008.8 402.1L1009.4 401.6L1010.0 418.6L1010.6 417.2L1011.2 429.5L1011.7 427.9L1012.3 433.9L1012.9 427.1L1013.4 440.5L1013.8 452.5L1014.3 460.0L1014.8 456.5L1015.2 436.6L1015.7 438.6L1016.2 440.9L1016.6 465.6L1017.1 471.4L1017.6 469.4L1018.1 475.7L1018.6 470.0L1019.1 479.8L1019.5 472.5L1020.0 465.7L1020.5 485.8L1020.9 496.2L1021.4 502.9L1021.9 504.7L1022.4 509.6L1022.9 508.6L1023.4 512.2L1023.8 505.5L1024.3 508.6L1024.8 494.3L1025.2 479.0L1025.7 477.1L1026.2 476.8L1026.6 485.4L1027.1 494.3L1027.6 490.7L1028.1 487.5L1028.6 502.9L1029.2 502.8L1029.7 513.5L1030.3 509.3L1030.8 513.6L1031.4 517.1L1031.9 494.4L1032.4 464.0L1032.9 460.0L1033.4 455.0L1033.8 446.8L1034.3 435.7L1034.9 425.6L1035.4 430.1L1036.0 427.4L1036.5 427.2L1037.1 412.9L1037.7 418.0L1038.3 412.9L1038.8 413.2L1039.4 403.1L1040.0 395.7L1040.5 393.2L1041.0 380.5L1041.5 370.9L1042.0 372.9L1042.6 381.5L1043.2 395.5L1043.7 399.1L1044.3 418.6L1044.8 430.2L1045.2 450.2L1045.7 460.0L1046.2 462.4L1046.6 469.5L1047.1 480.0L1047.7 482.7L1048.3 471.1L1048.8 470.4L1049.4 469.1L1050.0 460.0L1050.6 443.8L1051.2 423.2L1051.7 405.1L1052.3 381.4L1052.6 432.7L1052.9 477.1L1053.5 485.0L1054.0 481.8L1054.6 491.6L1055.1 494.0L1055.7 504.3L1056.3 505.6L1056.9 510.5L1057.4 505.5L1058.0 484.9L1058.6 485.7L1059.1 492.2L1059.5 495.2L1060.0 497.1L1060.5 486.0L1060.9 475.5L1061.4 477.1L1061.9 487.8L1062.4 493.5L1062.9 505.7L1063.5 499.4L1064.0 496.0L1064.6 496.5L1065.1 476.3L1065.7 482.9L1066.2 462.0L1066.6 436.3L1067.1 418.6L1067.7 411.8L1068.3 414.0L1068.8 412.4L1069.4 396.8L1070.0 404.3L1070.5 442.6L1070.9 483.4L1071.4 525.7L1072.0 515.1L1072.6 510.5L1073.1 501.0L1073.7 505.9L1074.3 502.9L1074.8 517.3L1075.3 518.7L1075.8 524.2L1076.3 534.3L1076.9 513.0L1077.4 500.9L1078.0 486.8L1078.6 482.9L1079.2 470.2L1079.7 472.8L1080.3 466.5L1080.8 458.8L1081.4 441.4L1081.9 453.0L1082.4 469.2L1082.9 477.1L1083.4 488.9L1083.8 498.5L1084.3 517.1L1084.9 511.3L1085.4 503.4L1086.0 509.0L1086.5 496.9L1087.1 482.9L1087.7 482.7L1088.3 483.1L1088.8 472.6L1089.4 475.4L1090.0 471.4L1090.6 472.4L1091.2 459.6L1091.7 447.5L1092.3 445.8L1092.9 432.9L1093.5 415.1L1094.0 403.6L1094.6 385.9L1095.1 373.7L1095.7 358.6L1096.3 361.1L1096.9 372.3L1097.4 380.8L1098.0 394.2L1098.6 390.0L1099.1 383.9L1099.5 374.8L1100.0 361.4L1100.6 353.4L1101.2 351.8L1101.7 355.6L1102.3 348.8L1102.9 355.7L1103.4 367.4L1103.8 381.3L1104.3 404.3L1104.9 390.5L1105.4 381.1L1106.0 364.6L1106.6 352.9L1107.1 361.3L1107.6 362.9L1108.1 369.9L1108.6 375.7L1109.2 386.8L1109.7 396.9L1110.3 406.4L1110.8 421.0L1111.4 418.6L1111.9 430.4L1112.4 438.0L1112.9 447.1L1113.4 409.6L1113.8 389.8L1114.3 361.4L1114.8 348.1L1115.2 340.4L1115.7 338.6L1116.3 334.8L1116.9 341.3L1117.4 342.0L1118.0 343.1L1118.6 347.1L1119.1 343.5L1119.5 339.4L1120.0 338.6L1120.6 336.3L1121.2 330.8L1121.7 329.7L1122.3 325.2L1122.9 332.9L1123.5 330.2L1124.0 332.2L1124.6 330.7L1125.1 327.0L1125.7 320.0L1126.2 333.0L1126.6 350.0L1127.1 361.4L1127.7 348.0L1128.3 331.9L1128.8 327.0L1129.4 334.5L1130.0 327.1L1130.5 332.4L1130.9 343.3L1131.4 338.6L1131.9 350.7L1132.4 366.9L1132.9 372.9L1133.5 378.4L1134.0 372.9L1134.6 364.0L1135.1 360.9L1135.7 347.1L1136.3 352.0L1136.9 362.7L1137.4 354.8L1138.0 354.3L1138.6 361.4L1139.1 350.8L1139.5 339.4L1140.0 335.7L1140.6 350.1L1141.2 358.2L1141.7 359.3L1142.3 375.9L1142.9 375.7L1143.4 399.0L1143.8 404.0L1144.3 412.9L1144.9 409.3L1145.4 397.3L1146.0 376.3L1146.5 358.9L1147.1 347.1L1147.7 344.6L1148.3 346.4L1148.8 347.8L1149.4 346.4L1150.0 330.0L1150.6 334.7L1151.2 324.3L1151.7 319.9L1152.3 333.9L1152.9 332.9L1153.4 336.1L1153.8 336.1L1154.3 324.3L1154.9 333.9L1155.4 337.2L1156.0 343.5L1156.5 349.1L1157.1 350.0L1157.6 358.2L1158.1 357.8L1158.6 367.1L1159.2 356.2L1159.7 359.0L1160.3 357.7L1160.8 363.8L1161.4 355.7L1162.0 362.4L1162.6 362.8L1163.1 367.7L1163.7 384.4L1164.3 401.4L1164.9 411.0L1165.4 412.2L1166.0 413.6L1166.5 422.2L1167.1 427.1L1167.6 438.8L1168.1 444.1L1168.6 438.6L1169.1 437.2L1169.5 426.8L1170.0 407.1L1170.6 417.1L1171.2 422.8L1171.7 430.7L1172.3 445.1L1172.9 441.4L1173.4 439.5L1173.8 443.5L1174.3 452.9L1174.8 440.5L1175.2 428.4L1175.7 418.6L1176.2 429.5L1176.6 441.3L1177.1 455.7L1177.6 434.7L1178.1 424.8L1178.6 410.0L1179.1 428.7L1179.5 436.1L1180.0 447.1L1180.5 433.5L1181.0 421.2L1181.5 398.0L1182.0 381.4L1182.6 393.9L1183.2 400.5L1183.7 424.6L1184.3 432.9L1184.8 455.7L1185.2 461.1L1185.7 468.6L1186.2 464.1L1186.6 445.7L1187.1 418.6L1187.7 403.2L1188.3 396.2L1188.8 385.8L1189.4 376.1L1190.0 361.4L1190.6 364.2L1191.2 357.1L1191.7 360.4L1192.3 356.8L1192.9 350.0L1193.4 344.6L1193.8 321.0L1194.3 298.6L1194.9 293.9L1195.4 313.5L1196.0 319.1L1196.5 312.5L1197.1 324.3L1197.7 313.9L1198.3 309.1L1198.8 313.4L1199.4 305.7L1200.0 304.3L1200.6 306.0L1201.2 298.3L1201.7 300.4L1202.3 292.1L1202.9 290.0L1203.5 287.7L1204.0 297.8L1204.6 300.7L1205.1 308.0L1205.7 310.0L1206.3 299.3L1206.9 294.3L1207.4 293.6L1208.0 303.1L1208.6 292.9L1209.2 297.1L1209.7 284.9L1210.3 270.8L1210.8 288.3L1211.4 287.1L1212.0 295.1L1212.6 294.2L1213.1 308.2L1213.7 317.7L1214.3 318.6L1214.9 323.4L1215.4 309.1L1216.0 294.2L1216.5 289.1L1217.1 275.7L1217.7 280.5L1218.3 289.6L1218.8 295.9L1219.4 305.8L1220.0 321.4L1220.6 307.2L1221.2 300.2L1221.7 296.1L1222.3 299.3L1222.9 298.6L1223.5 292.3L1224.0 288.2L1224.6 286.6L1225.1 284.9L1225.7 275.7L1226.3 277.5L1226.9 282.7L1227.4 274.9L1228.0 270.1L1228.6 261.4L1229.2 260.2L1229.7 263.7L1230.3 266.3L1230.8 244.7L1231.4 252.9L1232.0 249.8L1232.6 242.4L1233.1 244.8L1233.7 243.5L1234.3 241.4L1234.9 240.1L1235.4 241.7L1236.0 250.5L1236.5 272.0L1237.1 267.1L1237.6 271.6L1238.1 275.9L1238.6 284.3L1239.2 275.3L1239.7 269.0L1240.3 269.7L1240.8 271.6L1241.4 252.9L1242.0 258.3L1242.6 256.8L1243.1 252.1L1243.7 258.9L1244.3 250.0L1244.8 266.3L1245.2 280.1L1245.7 287.1L1246.3 286.5L1246.9 289.0L1247.4 283.2L1248.0 275.2L1248.6 275.7L1249.2 285.0L1249.7 272.3L1250.3 277.2L1250.8 277.5L1251.4 281.4L1251.9 281.2L1252.4 300.4L1252.9 298.6L1253.5 306.3L1254.0 303.8L1254.6 301.3L1255.1 307.3L1255.7 310.0L1256.2 311.7L1256.6 312.5L1257.1 315.7L1257.7 298.0L1258.3 293.9L1258.8 278.4L1259.4 261.8L1260.0 247.1L1260.6 240.8L1261.2 239.2L1261.7 245.7L1262.3 241.2L1262.9 244.3L1263.4 244.8L1263.8 242.5L1264.3 241.4L1264.8 251.1L1265.2 259.4L1265.7 264.3L1266.3 267.5L1266.9 270.6L1267.4 275.1L1268.0 283.0L1268.6 284.3L1269.2 296.0L1269.7 291.9L1270.3 278.1L1270.8 288.0L1271.4 275.7L1271.9 286.1L1272.4 286.0L1272.9 292.9L1273.5 298.7L1274.0 304.1L1274.6 311.1L1275.1 316.1L1275.7 321.4L1276.3 310.1L1276.9 304.9L1277.4 298.8L1278.0 282.0L1278.6 264.3L1279.2 275.4L1279.8 274.5L1280.3 275.4L1280.9 264.3L1281.4 281.2L1281.9 288.8L1282.4 300.5L1282.9 304.3L1283.5 318.0L1284.0 334.6L1284.6 344.6L1285.1 367.6L1285.7 381.4L1286.3 373.6L1286.9 365.9L1287.4 352.6L1288.0 338.9L1288.6 332.9L1289.2 341.6L1289.7 343.6L1290.3 348.6L1290.8 355.2L1291.4 361.4L1292.0 364.6L1292.6 365.0L1293.1 360.3L1293.7 358.4L1294.3 367.1L1294.9 374.7L1295.4 378.8L1296.0 384.3L1296.5 387.0L1297.1 398.6L1297.6 388.2L1298.1 377.2L1298.6 361.4L1299.2 353.5L1299.7 338.6L1300.3 345.3L1300.8 333.4L1301.4 327.1L1302.0 319.8L1302.6 319.3L1303.1 315.2L1303.7 318.3L1304.3 321.4L1304.8 339.4L1305.2 358.7L1305.7 390.0L1306.3 383.5L1306.9 373.9L1307.4 361.2L1308.0 363.0L1308.6 361.4L1309.2 347.5L1309.7 335.3L1310.3 321.7L1310.8 315.2L1311.4 315.7L1311.9 330.7L1312.4 355.1L1312.9 384.3L1313.5 379.2L1314.0 388.9L1314.6 393.0L1315.1 391.6L1315.7 387.1L1316.2 366.8L1316.6 336.1L1317.1 310.0L1317.7 293.8L1318.3 290.8L1318.8 289.0L1319.4 273.2L1320.0 264.3L1320.5 274.0L1320.9 285.7L1321.4 304.3L1321.9 276.0L1322.4 264.3L1322.9 247.1L1323.5 238.4L1324.0 246.2L1324.6 250.4L1325.1 243.5L1325.7 235.7L1326.3 238.8L1326.9 233.9L1327.4 240.5L1328.0 240.0L1328.6 238.6L1329.1 235.0L1329.5 236.4L1330.0 247.1L1330.5 269.3L1330.9 291.5L1331.4 318.6L1332.0 311.7L1332.6 305.2L1333.1 304.2L1333.7 292.3L1334.3 281.4L1334.8 299.9L1335.2 313.3L1335.7 315.7L1336.2 306.8L1336.6 279.5L1337.1 255.7L1337.7 271.6L1338.3 295.3L1338.8 299.7L1339.4 306.1L1340.0 318.6L1340.5 304.9L1340.9 284.4L1341.4 275.7L1341.9 289.6L1342.4 312.0L1342.9 338.6L1343.5 330.9L1344.0 334.6L1344.6 324.2L1345.1 321.9L1345.7 321.4L1346.2 335.5L1346.6 348.5L1347.1 364.3L1347.7 372.4L1348.3 387.2L1348.8 380.6L1349.4 381.0L1350.0 390.0L1350.5 393.1L1350.9 400.3L1351.4 412.9L1351.9 395.6L1352.4 388.1L1352.9 384.9L1353.4 364.3L1354.0 393.7L1354.6 397.9L1355.1 396.5L1355.7 415.7L1356.2 430.8L1356.6 439.0L1357.1 447.1L1357.6 461.0L1358.1 481.7L1358.6 491.4L1359.2 488.2L1359.7 481.0L1360.3 471.5L1360.8 473.2L1361.4 465.7L1361.9 465.9L1362.4 453.7L1362.9 450.0L1363.4 455.5L1363.8 472.5L1364.3 477.1L1364.8 483.3L1365.2 489.6L1365.7 500.0L1366.3 504.5L1366.9 515.6L1367.4 531.6L1368.0 540.4L1368.6 548.6L1369.1 541.9L1369.5 529.7L1370.0 511.4L1370.5 510.9L1370.9 521.1L1371.4 531.4L1371.9 515.2L1372.4 493.6L1372.9 488.6L1373.5 486.1L1374.0 484.5L1374.6 480.6L1375.1 482.9L1375.7 480.0L1376.3 483.7L1376.9 482.9L1377.4 475.4L1378.0 473.2L1378.6 471.4L1379.1 442.3L1379.5 388.2L1380.0 347.1L1380.5 363.5L1380.9 379.8L1381.4 395.7L1382.0 393.1L1382.6 382.0L1383.1 369.4L1383.7 355.4L1384.3 344.3L1384.8 368.0L1385.2 382.2L1385.7 395.7L1386.3 403.3L1386.9 409.8L1387.4 418.7L1388.0 423.1L1388.6 427.1L1389.1 388.6L1389.5 350.4L1390.0 304.3L1390.5 335.7L1390.9 367.3L1391.4 401.4L1391.9 420.9L1392.4 444.6L1392.9 461.4L1393.5 457.2L1394.0 444.1L1394.6 430.5L1395.1 422.7L1395.7 418.6L1396.2 394.8L1396.6 382.5L1397.1 361.4L1397.7 349.6L1398.3 331.8L1398.8 309.2L1399.4 288.8L1400.0 281.4L1400.6 269.7L1401.2 266.6L1401.7 259.9L1402.3 249.4L1402.9 241.4L1403.4 246.1L1403.8 236.8L1404.3 247.1L1404.8 245.8L1405.2 249.7L1405.7 238.6L1406.2 258.8L1406.6 272.8L1407.1 284.3L1407.7 273.7L1408.3 266.3L1408.8 247.8L1409.4 234.6L1410.0 227.1" fill="none" stroke="#6276d9" stroke-width="3.3" stroke-linejoin="round" stroke-linecap="round"/>
<path d="M180.0 706.0L180.5 701.3L181.0 690.0L181.5 650.0L182.0 659.7L182.5 668.0L183.0 672.9L183.5 676.0L183.9 670.7L184.3 664.0L185.0 677.0L185.5 673.0L186.0 666.0L186.5 670.8L187.0 678.0L187.5 671.8L188.0 668.0L188.5 670.4L189.0 676.0L189.5 670.2L190.0 669.0L190.5 670.3L191.0 674.4L191.5 680.0L192.0 682.0L192.5 684.7L193.0 690.0L193.5 689.0L194.0 687.7L194.5 688.0L195.0 687.0L195.5 695.2L196.0 700.0L196.5 697.7L197.0 695.8L197.5 696.0L198.0 701.0L198.5 706.8L199.0 712.0L199.5 710.1L200.0 706.9L200.5 706.0L201.0 709.7L201.5 711.7L202.0 718.0L202.5 716.9L203.0 714.0L203.5 719.0L204.0 725.7L204.5 733.0L205.0 726.9L205.5 721.7L206.0 716.0L206.5 701.4L207.0 687.9L207.5 673.0L208.0 673.8L208.5 681.6L209.0 690.0L209.5 685.2L210.0 684.0L210.7 683.7L211.3 687.8L212.0 688.0L212.7 685.7L213.3 684.5L214.0 684.0L214.7 683.2L215.3 687.8L216.0 692.0L216.7 687.4L217.3 685.3L218.0 688.0L218.7 692.0L219.3 695.0L220.0 696.5L220.6 694.5L221.1 691.8L221.7 686.9L222.2 683.8L222.8 684.0L223.4 685.8L223.9 685.9L224.4 690.6L225.0 695.0L225.7 690.1L226.4 690.5L227.1 688.2L227.8 690.4L228.5 688.0L229.1 690.3L229.8 689.0L230.4 686.6L231.0 690.0L231.7 682.4L232.3 678.6L233.0 673.0L233.6 669.6L234.3 665.7L235.0 658.5L235.7 650.0L236.3 641.2L237.0 634.0L237.6 634.0L238.2 632.5L238.8 633.1L239.4 631.4L240.0 631.0L240.6 626.8L241.2 619.0L241.7 610.9L242.3 605.4L242.9 600.0L243.3 590.0L243.7 582.9L244.3 593.5L244.9 608.6L245.6 597.6L246.3 589.7L247.0 580.0L247.6 571.6L248.2 567.8L248.8 563.1L249.4 558.2L250.0 554.0L250.7 550.2L251.4 543.7L252.0 541.2L252.7 536.5L253.4 532.9L254.0 535.1L254.6 537.3L255.1 539.4L255.7 542.9L256.3 541.9L256.9 543.4L257.5 546.8L258.2 547.2L258.8 547.3L259.4 547.1L260.0 545.7L260.6 549.3L261.2 553.6L261.9 559.5L262.5 559.5L263.1 564.3L263.7 567.0L264.4 566.4L265.0 563.5L265.7 560.0L266.3 563.8L266.9 567.2L267.4 571.2L268.0 573.0L268.6 571.4L269.2 572.3L269.8 567.3L270.4 563.9L271.1 559.7L271.7 556.1L272.3 551.6L272.9 548.6L273.6 546.7L274.3 545.7L274.9 541.6L275.6 538.8L276.3 536.7L277.0 532.9L277.6 536.0L278.2 539.5L278.8 541.6L279.4 541.9L280.0 545.7L280.6 540.7L281.2 539.9L281.7 537.9L282.3 536.1L282.9 531.4L283.5 528.6L284.0 524.2L284.6 517.5L285.1 516.4L285.7 511.4L286.4 527.7L287.0 545.7L287.6 543.8L288.2 538.8L288.8 535.5L289.4 533.6L290.0 531.4L290.6 534.4L291.2 537.9L291.7 543.9L292.3 548.5L292.9 551.4L293.6 549.2L294.3 544.8L294.9 540.2L295.6 536.8L296.3 533.3L297.0 531.4L297.6 535.1L298.3 541.1L298.9 545.1L299.6 548.4L300.2 552.6L300.9 558.6L301.6 553.9L302.2 547.9L302.9 541.4L303.6 543.0L304.3 544.0L304.9 545.4L305.6 545.9L306.3 548.1L307.0 547.0L307.7 548.7L308.3 543.2L309.0 544.0L309.6 548.5L310.3 544.6L310.9 544.4L311.6 545.4L312.2 544.2L312.9 543.0L313.5 544.2L314.2 540.2L314.8 537.6L315.4 537.3L316.1 535.9L316.7 534.1L317.4 535.0L318.0 534.3L318.6 535.4L319.3 536.1L319.9 536.4L320.5 537.9L321.1 538.5L321.8 538.4L322.4 540.6L323.0 541.9L323.7 542.5L324.3 543.0L324.9 544.5L325.6 542.6L326.2 543.2L326.8 543.1L327.5 545.8L328.1 546.2L328.7 548.8L329.4 549.4L330.0 545.7L330.6 548.3L331.2 547.2L331.7 549.4L332.3 550.0L332.9 551.4L333.5 551.5L334.1 550.6L334.7 552.7L335.3 553.3L335.9 554.2L336.5 554.7L337.1 554.3L337.7 554.6L338.3 553.0L338.8 555.6L339.4 556.9L340.0 560.0L340.6 560.0L341.2 563.9L341.7 565.3L342.3 569.0L342.9 568.6L343.5 568.8L344.0 568.0L344.6 566.7L345.1 565.9L345.7 562.9L346.3 563.1L346.9 566.0L347.5 566.7L348.2 565.9L348.8 568.3L349.4 569.6L350.0 570.0L350.6 569.1L351.2 566.0L351.8 562.4L352.5 556.3L353.1 556.3L353.7 554.5L354.3 548.6L354.9 551.5L355.5 551.3L356.1 552.5L356.8 550.3L357.4 551.6L358.0 551.6L358.6 551.4L359.2 549.7L359.8 550.1L360.4 550.0L361.1 551.6L361.7 551.0L362.3 546.8L362.9 547.1L363.5 542.9L364.1 543.4L364.7 542.9L365.3 541.2L365.9 539.0L366.5 539.2L367.1 540.0L367.7 536.4L368.3 535.5L368.8 536.7L369.4 535.8L370.0 534.3L370.6 530.0L371.2 525.4L371.7 522.7L372.3 522.3L372.9 517.1L373.4 519.2L373.8 523.5L374.3 522.9L374.9 515.6L375.4 507.8L376.0 501.4L376.5 492.5L377.1 485.7L377.6 478.8L378.1 470.3L378.6 465.7L379.3 463.8L380.0 463.7L380.7 460.3L381.4 458.6L382.0 459.6L382.6 459.8L383.2 457.8L383.9 464.1L384.5 464.7L385.1 465.6L385.7 464.3L386.3 462.6L386.9 458.8L387.5 458.3L388.2 450.6L388.8 447.2L389.4 443.7L390.0 441.4L390.6 438.2L391.2 437.1L391.8 433.4L392.5 429.4L393.1 426.5L393.7 426.0L394.3 424.3L394.9 424.1L395.4 423.6L396.0 423.9L396.5 420.5L397.1 418.6L397.7 414.7L398.3 409.0L398.8 402.1L399.4 395.0L400.0 390.0L400.6 388.0L401.2 383.8L401.8 380.8L402.5 376.9L403.1 377.3L403.7 373.6L404.3 370.0L404.9 364.5L405.4 359.2L406.0 354.0L406.5 349.3L407.1 344.3L407.7 344.3L408.3 346.3L408.9 350.9L409.6 355.2L410.2 355.7L410.8 358.7L411.4 361.4L412.0 362.8L412.6 362.3L413.1 366.0L413.7 367.9L414.3 372.9L414.9 375.1L415.4 377.1L416.0 379.5L416.5 379.9L417.1 384.3L417.6 387.2L418.1 388.7L418.6 395.7L419.3 388.7L420.0 385.6L420.7 377.5L421.4 372.9L422.0 374.1L422.6 376.3L423.1 375.4L423.7 377.1L424.3 375.7L424.9 373.4L425.4 368.7L426.0 362.6L426.5 359.1L427.1 358.6L427.7 353.9L428.3 357.9L428.8 356.3L429.4 354.4L430.0 352.9L430.6 349.9L431.2 352.0L431.8 348.4L432.5 349.6L433.1 349.1L433.7 346.8L434.3 344.3L434.9 346.9L435.4 349.8L436.0 350.9L436.5 355.7L437.1 358.6L437.8 366.6L438.4 372.4L439.1 375.7L439.7 374.1L440.2 367.5L440.8 363.5L441.4 358.6L442.0 357.5L442.6 357.4L443.2 359.0L443.9 362.3L444.5 360.6L445.1 359.6L445.7 358.6L446.3 356.0L446.9 356.9L447.5 355.7L448.2 354.1L448.8 353.0L449.4 354.6L450.0 355.7L450.6 355.5L451.2 358.3L451.7 358.9L452.3 360.2L452.9 361.4L453.5 362.6L454.1 361.9L454.7 361.1L455.3 361.3L455.9 359.2L456.5 356.1L457.1 355.7L457.7 351.5L458.3 347.1L458.9 346.2L459.6 343.2L460.2 341.6L460.8 339.8L461.4 335.7L462.0 334.8L462.6 334.9L463.2 336.3L463.9 335.1L464.5 335.5L465.1 333.9L465.7 332.9L466.3 328.6L466.9 325.5L467.5 320.0L468.2 319.3L468.8 315.5L469.4 314.7L470.0 310.0L470.6 307.8L471.2 307.4L471.7 306.9L472.3 305.3L472.9 304.3L473.5 302.5L474.0 298.9L474.6 295.5L475.1 292.2L475.7 292.9L476.3 286.3L476.9 282.0L477.4 279.2L478.0 274.8L478.6 271.4L479.3 273.9L480.0 277.5L480.7 279.6L481.4 287.1L482.0 283.7L482.6 284.3L483.1 281.5L483.7 281.1L484.3 281.4L484.9 286.2L485.4 289.7L486.0 295.0L486.5 299.0L487.1 304.3L487.7 305.7L488.3 304.4L488.8 302.6L489.4 298.2L490.0 295.7L490.6 297.4L491.2 296.9L491.8 297.7L492.5 296.9L493.1 297.8L493.7 297.1L494.3 298.6L494.9 301.3L495.5 306.7L496.1 306.4L496.8 307.8L497.4 312.5L498.0 316.7L498.6 318.6L499.2 320.6L499.8 323.5L500.4 325.7L501.1 328.1L501.7 331.4L502.3 331.2L502.9 332.9L503.5 336.3L504.0 338.3L504.6 339.2L505.1 342.5L505.7 344.3L506.3 340.2L506.9 336.5L507.5 337.0L508.2 332.9L508.8 333.6L509.4 331.9L510.0 327.1L510.6 325.1L511.2 321.2L511.8 316.1L512.5 315.4L513.1 311.6L513.7 313.0L514.3 310.0L514.9 306.7L515.4 306.8L516.0 302.2L516.5 302.7L517.1 304.3L517.7 306.0L518.3 306.2L518.8 306.4L519.4 307.5L520.0 310.0L520.6 311.9L521.2 315.3L521.8 316.4L522.5 315.4L523.1 319.2L523.7 323.2L524.3 324.3L524.9 326.9L525.4 324.1L526.0 322.2L526.5 319.6L527.1 318.6L527.7 321.2L528.3 324.9L528.9 323.6L529.6 325.3L530.2 325.3L530.8 326.7L531.4 330.0L532.0 330.6L532.6 333.6L533.1 334.0L533.7 335.9L534.3 338.6L534.9 339.2L535.5 338.4L536.1 337.9L536.8 336.8L537.4 335.0L538.0 334.5L538.6 332.9L539.2 334.4L539.9 334.1L540.5 335.6L541.1 335.0L541.8 336.2L542.4 335.6L543.0 336.6L543.7 335.2L544.3 335.7L544.9 336.8L545.5 337.7L546.1 342.5L546.8 344.9L547.4 346.7L548.0 349.2L548.6 350.0L549.3 352.3L550.0 355.6L550.7 357.7L551.4 361.4L552.0 358.3L552.6 359.5L553.2 359.2L553.9 362.3L554.5 360.8L555.1 360.2L555.7 361.4L556.3 365.5L556.9 368.3L557.5 369.5L558.2 373.9L558.8 376.4L559.4 382.8L560.0 384.3L560.6 381.4L561.2 378.3L561.7 372.8L562.3 371.9L562.9 372.9L563.5 374.3L564.1 374.0L564.7 372.9L565.3 374.3L565.9 374.4L566.5 375.0L567.1 375.7L567.7 379.9L568.3 381.9L568.9 382.7L569.6 383.6L570.2 380.8L570.8 378.3L571.4 381.4L572.0 380.9L572.6 381.1L573.2 380.5L573.9 379.8L574.5 380.4L575.1 380.3L575.7 378.6L576.3 379.6L576.9 379.8L577.5 378.9L578.2 378.2L578.8 380.4L579.4 379.1L580.0 378.6L580.6 385.8L581.2 389.2L581.8 392.1L582.5 397.2L583.1 399.4L583.7 403.0L584.3 407.1L584.9 408.2L585.5 410.1L586.1 412.9L586.8 417.1L587.4 417.8L588.0 416.6L588.6 418.6L589.3 420.1L590.0 421.0L590.7 426.6L591.4 430.0L592.0 427.5L592.6 424.1L593.1 420.7L593.7 417.6L594.3 412.9L594.9 411.7L595.5 409.5L596.1 406.6L596.8 402.2L597.4 401.5L598.0 400.5L598.6 395.7L599.2 396.6L599.8 398.9L600.4 399.7L601.1 403.5L601.7 405.3L602.3 409.7L602.9 410.0L603.5 413.3L604.1 412.2L604.7 412.0L605.3 412.2L605.9 414.4L606.5 413.7L607.1 415.7L607.7 415.7L608.3 413.7L608.8 416.2L609.4 416.6L610.0 415.7L610.7 410.2L611.4 407.1L612.0 403.7L612.6 403.2L613.2 402.3L613.9 396.5L614.5 397.2L615.1 398.6L615.7 395.7L616.3 397.4L616.9 397.2L617.4 401.6L618.0 403.3L618.6 404.3L619.2 404.5L619.8 404.7L620.4 401.9L621.1 401.1L621.7 399.8L622.3 399.0L622.9 401.4L623.5 399.1L624.1 398.1L624.7 401.3L625.3 401.0L625.9 401.2L626.5 397.5L627.1 398.6L627.7 395.8L628.3 394.4L628.8 393.3L629.4 392.3L630.0 390.0L630.6 389.4L631.2 388.8L631.7 391.3L632.3 394.6L632.9 391.4L633.5 396.5L634.1 394.2L634.7 392.5L635.3 393.2L635.9 394.2L636.5 396.8L637.1 394.3L637.7 394.5L638.3 392.1L638.8 392.9L639.4 390.4L640.0 390.0L640.6 384.5L641.2 382.0L641.7 377.7L642.3 372.3L642.9 370.0L643.5 367.6L644.0 366.5L644.6 365.6L645.1 363.9L645.7 364.3L646.3 365.5L646.9 366.1L647.4 366.6L648.0 369.8L648.6 370.0L649.3 368.4L650.0 369.2L650.7 369.0L651.4 367.1L652.0 366.1L652.6 365.2L653.1 361.7L653.7 361.9L654.3 361.4L654.9 357.9L655.4 355.9L656.0 355.6L656.5 353.2L657.1 352.9L657.7 354.1L658.3 356.6L658.8 359.6L659.4 361.1L660.0 361.4L660.6 365.9L661.2 366.0L661.7 367.8L662.3 371.2L662.9 372.9L663.5 376.0L664.0 376.8L664.6 376.4L665.1 376.0L665.7 378.6L666.3 376.1L666.9 378.3L667.5 376.2L668.2 376.0L668.8 377.0L669.4 376.9L670.0 375.7L670.6 376.2L671.2 380.5L671.7 380.6L672.3 381.4L672.9 381.4L673.5 384.3L674.0 384.1L674.6 386.0L675.1 386.3L675.7 387.1L676.3 386.4L676.9 386.0L677.5 387.9L678.2 388.7L678.8 388.9L679.4 388.8L680.0 390.0L680.6 388.7L681.2 389.6L681.7 390.2L682.3 388.3L682.9 387.1L683.5 386.1L684.0 381.4L684.6 379.2L685.1 377.9L685.7 378.6L686.3 378.4L686.9 382.9L687.4 382.3L688.0 386.9L688.6 390.0L689.2 389.9L689.8 392.2L690.4 389.1L691.1 388.7L691.7 389.6L692.3 389.0L692.9 385.7L693.5 386.3L694.1 386.4L694.7 385.7L695.3 387.3L695.9 389.3L696.5 391.6L697.1 390.0L697.7 391.3L698.3 391.0L698.8 390.9L699.4 387.8L700.0 387.1L700.6 388.1L701.2 389.0L701.8 387.8L702.5 386.1L703.1 386.8L703.7 387.2L704.3 387.1L704.9 389.8L705.4 388.5L706.0 390.7L706.5 396.1L707.1 395.7L707.7 399.0L708.3 397.7L708.9 397.1L709.6 397.1L710.2 396.3L710.8 396.8L711.4 398.6L712.0 399.3L712.6 399.4L713.2 401.7L713.9 404.1L714.5 403.8L715.1 405.6L715.7 408.6L716.3 405.2L716.9 406.3L717.5 406.9L718.2 406.0L718.8 406.2L719.4 406.7L720.0 405.7L720.6 405.5L721.2 401.6L721.8 400.3L722.5 397.4L723.1 394.6L723.7 396.6L724.3 395.7L724.9 395.7L725.5 396.3L726.1 395.4L726.8 392.8L727.4 392.1L728.0 390.3L728.6 390.0L729.2 390.0L729.8 384.2L730.4 384.4L731.1 382.4L731.7 382.3L732.3 382.1L732.9 378.6L733.5 375.5L734.0 374.3L734.6 371.7L735.1 365.1L735.7 362.9L736.3 365.8L736.9 364.0L737.4 363.2L738.0 366.5L738.6 367.1L739.3 367.6L740.0 369.9L740.7 371.3L741.4 372.9L742.0 374.8L742.6 381.2L743.1 386.0L743.7 388.1L744.3 390.0L744.8 400.6L745.2 406.7L745.7 412.9L746.3 412.3L746.9 409.6L747.4 405.9L748.0 404.6L748.6 404.3L749.2 401.0L749.8 401.4L750.4 400.6L751.1 398.6L751.7 399.6L752.3 398.2L752.9 395.7L753.5 397.7L754.0 394.5L754.6 392.3L755.1 390.1L755.7 390.0L756.3 388.7L756.9 387.4L757.4 386.5L758.0 387.9L758.6 384.3L759.3 385.2L760.0 381.7L760.7 380.7L761.4 378.6L762.0 379.0L762.6 379.0L763.2 379.3L763.9 380.0L764.5 381.4L765.1 382.8L765.7 381.4L766.3 382.4L766.9 380.8L767.4 381.1L768.0 381.0L768.6 381.4L769.3 378.7L770.0 375.2L770.7 373.8L771.4 372.9L772.0 369.3L772.6 372.3L773.2 372.8L773.9 372.9L774.5 370.3L775.1 370.5L775.7 370.0L776.3 372.3L776.9 371.5L777.5 370.1L778.2 370.9L778.8 368.5L779.4 372.0L780.0 372.9L780.6 373.3L781.2 371.2L781.8 373.0L782.5 374.6L783.1 374.6L783.7 374.7L784.3 372.9L784.9 375.6L785.5 373.9L786.1 374.6L786.8 372.4L787.4 370.5L788.0 369.8L788.6 370.0L789.3 363.9L790.0 361.1L790.7 356.0L791.4 352.9L792.0 351.1L792.6 349.9L793.1 350.2L793.7 349.8L794.3 344.3L794.9 344.6L795.5 343.0L796.1 341.8L796.8 340.1L797.4 342.3L798.0 342.2L798.6 338.6L799.3 340.4L800.0 338.6L800.7 339.1L801.4 341.4L802.0 338.5L802.5 339.0L803.1 334.1L803.7 332.9L804.4 340.2L805.0 343.1L805.7 350.0L806.3 348.7L806.9 346.0L807.4 345.1L808.0 341.4L808.6 344.3L809.3 345.3L810.0 348.0L810.7 349.0L811.4 352.9L812.0 348.2L812.6 349.2L813.2 349.4L813.9 347.0L814.5 348.2L815.1 347.4L815.7 347.1L816.3 344.4L816.9 343.4L817.5 340.2L818.2 342.6L818.8 343.8L819.4 342.3L820.0 341.4L820.6 339.3L821.2 338.1L821.8 338.5L822.5 337.7L823.1 338.7L823.7 337.4L824.3 338.6L824.9 337.9L825.4 338.2L826.0 335.3L826.5 332.9L827.1 332.9L827.7 326.1L828.3 326.5L828.9 326.1L829.6 323.1L830.2 323.4L830.8 320.0L831.4 318.6L832.0 317.0L832.6 319.6L833.2 320.5L833.9 317.6L834.5 318.3L835.1 318.0L835.7 321.4L836.3 318.4L836.9 318.3L837.5 316.8L838.2 316.2L838.8 316.4L839.4 314.2L840.0 312.9L840.6 309.4L841.2 307.2L841.7 307.8L842.3 308.4L842.9 304.3L843.5 301.2L844.0 297.3L844.6 291.6L845.1 287.1L845.7 284.3L846.3 283.4L846.9 280.7L847.5 279.5L848.2 278.0L848.8 277.8L849.4 275.7L850.0 272.9L850.6 273.0L851.2 271.9L851.8 270.8L852.5 272.2L853.1 274.3L853.7 269.9L854.3 270.0L854.9 268.9L855.4 264.6L856.0 261.9L856.5 259.8L857.1 258.6L857.7 256.3L858.3 255.2L858.8 253.7L859.4 255.8L860.0 252.9L860.6 254.6L861.2 257.1L861.7 259.6L862.3 263.6L862.9 267.1L863.5 262.6L864.0 261.4L864.6 259.8L865.1 260.5L865.7 255.7L866.3 257.4L866.9 255.9L867.5 255.1L868.2 257.0L868.8 255.0L869.4 252.9L870.0 252.9L870.6 253.5L871.2 255.2L871.7 258.7L872.3 258.6L872.9 261.4L873.5 257.2L874.0 254.9L874.6 251.1L875.1 250.0L875.7 247.1L876.3 245.7L876.9 245.9L877.5 245.6L878.2 246.3L878.8 246.7L879.4 242.8L880.0 241.4L880.6 238.1L881.2 235.6L881.7 235.7L882.3 235.0L882.9 232.9L883.5 229.1L884.0 224.9L884.6 223.0L885.1 219.2L885.7 212.9L886.3 213.8L886.9 213.3L887.4 209.8L888.0 211.5L888.6 210.0L889.3 220.5L890.0 224.3L890.7 234.7L891.4 241.4L892.0 239.4L892.6 238.7L893.1 234.8L893.7 232.5L894.3 230.0L894.9 232.1L895.4 232.5L896.0 234.5L896.5 232.4L897.1 235.7L897.7 232.4L898.3 236.8L898.8 239.2L899.4 240.6L900.0 241.4L900.6 242.8L901.2 244.7L901.7 247.1L902.3 247.0L902.9 250.0L903.5 248.5L904.0 246.5L904.6 248.9L905.1 247.1L905.7 244.3L906.3 246.1L906.9 247.4L907.4 248.3L908.0 249.0L908.6 247.1L909.3 249.6L910.0 251.8L910.7 255.0L911.4 255.7L912.0 253.9L912.6 250.7L913.1 246.7L913.7 244.3L914.3 241.4L914.9 240.5L915.4 235.0L916.0 230.6L916.5 227.2L917.1 227.1L917.7 222.4L918.3 224.8L918.8 226.3L919.4 224.5L920.0 221.4L920.6 223.1L921.2 225.0L921.7 225.8L922.3 221.9L922.9 224.3L923.5 221.0L924.0 222.7L924.6 218.4L925.1 214.7L925.7 212.9L926.3 213.5L926.9 217.9L927.4 218.2L928.0 220.4L928.6 221.4L929.3 222.7L930.0 221.3L930.7 220.0L931.4 218.6L932.0 219.8L932.6 220.9L933.1 225.8L933.7 226.1L934.3 230.0L934.9 228.4L935.4 227.5L936.0 226.3L936.5 222.2L937.1 218.6L937.7 217.5L938.3 217.3L938.8 218.6L939.4 217.9L940.0 215.7L940.6 215.5L941.2 212.8L941.7 212.1L942.3 206.9L942.9 207.1L943.5 204.0L944.0 206.9L944.6 206.5L945.1 206.4L945.7 204.3L946.3 201.6L946.9 200.5L947.4 200.1L948.0 199.9L948.6 200.0L949.3 202.2L950.0 202.0L950.7 203.3L951.4 204.3L952.0 203.9L952.6 204.6L953.1 206.1L953.7 207.2L954.3 207.1L954.9 208.5L955.4 205.7L956.0 206.9L956.5 206.9L957.1 205.7L957.7 205.9L958.3 208.9L958.8 208.1L959.4 208.6L960.0 210.0L960.6 211.0L961.2 213.4L961.7 212.3L962.3 214.6L962.9 212.9L963.5 215.2L964.0 213.8L964.6 215.5L965.1 215.7L965.7 215.7L966.3 216.1L966.9 217.4L967.4 220.6L968.0 221.5L968.6 221.4L969.3 222.4L970.0 224.1L970.7 222.3L971.4 224.3L972.0 227.4L972.6 232.0L973.1 232.3L973.7 233.9L974.3 238.6L974.9 235.4L975.4 235.0L976.0 233.5L976.5 233.2L977.1 232.9L977.7 229.4L978.3 229.0L978.8 228.3L979.4 226.9L980.0 224.3L980.6 225.1L981.2 227.6L981.7 226.1L982.3 227.1L982.9 230.0L983.5 230.2L984.0 233.6L984.6 233.5L985.1 235.5L985.7 235.7L986.3 237.9L986.9 238.7L987.4 238.5L988.0 234.6L988.6 232.9L989.3 233.1L990.0 232.6L990.7 232.3L991.4 230.0L992.0 229.8L992.6 227.2L993.1 225.2L993.7 221.4L994.3 221.4L994.9 221.0L995.4 220.8L996.0 219.2L996.5 221.4L997.1 218.6L997.7 220.9L998.3 220.6L998.8 222.7L999.4 224.1L1000.0 224.3L1000.6 226.3L1001.2 226.0L1001.7 227.3L1002.3 227.4L1002.9 227.1L1003.5 229.2L1004.0 228.6L1004.6 226.8L1005.1 225.5L1005.7 227.1L1006.3 228.3L1006.9 230.7L1007.4 229.2L1008.0 231.9L1008.6 232.9L1009.3 236.5L1010.0 240.4L1010.7 242.7L1011.4 247.1L1012.0 246.3L1012.6 247.6L1013.1 248.6L1013.7 250.2L1014.3 252.9L1014.9 252.8L1015.4 253.8L1016.0 257.1L1016.5 255.1L1017.1 255.7L1017.7 256.2L1018.3 257.8L1018.8 259.9L1019.4 259.3L1020.0 261.4L1020.6 264.1L1021.2 270.8L1021.7 276.9L1022.3 282.8L1022.9 287.1L1023.5 287.3L1024.0 283.4L1024.6 284.5L1025.1 282.8L1025.7 281.4L1026.3 284.4L1026.9 282.4L1027.5 278.9L1028.2 280.0L1028.8 281.0L1029.4 281.7L1030.0 281.4L1030.5 281.8L1030.9 280.9L1031.4 281.4L1031.9 274.1L1032.4 270.4L1032.9 267.1L1033.6 264.5L1034.3 262.8L1035.0 262.2L1035.7 260.7L1036.4 256.9L1037.1 258.6L1037.7 254.7L1038.3 253.7L1038.9 253.3L1039.6 255.1L1040.2 253.1L1040.8 252.3L1041.4 250.0L1042.0 249.4L1042.6 254.0L1043.1 254.7L1043.7 257.4L1044.3 258.6L1045.0 259.5L1045.7 262.2L1046.4 265.8L1047.1 267.1L1047.7 266.1L1048.3 264.8L1048.9 262.0L1049.6 260.0L1050.2 259.7L1050.8 258.1L1051.4 257.1L1052.0 259.8L1052.6 261.5L1053.2 264.1L1053.9 268.3L1054.5 272.6L1055.1 273.6L1055.7 275.7L1056.3 274.7L1056.9 274.8L1057.5 275.7L1058.2 275.1L1058.8 275.7L1059.4 274.1L1060.0 272.9L1060.6 272.4L1061.2 270.7L1061.8 273.8L1062.5 274.7L1063.1 274.1L1063.7 275.4L1064.3 275.7L1065.0 271.3L1065.7 270.7L1066.4 268.9L1067.1 264.3L1067.7 266.8L1068.3 265.0L1068.8 266.6L1069.4 266.6L1070.0 264.3L1070.5 274.3L1070.9 277.0L1071.4 284.3L1072.0 284.4L1072.6 285.0L1073.2 282.6L1073.9 282.8L1074.5 281.3L1075.1 281.9L1075.7 278.6L1076.3 279.1L1076.9 278.3L1077.5 276.0L1078.2 279.1L1078.8 276.5L1079.4 274.7L1080.0 275.7L1080.6 274.0L1081.2 275.3L1081.8 276.0L1082.5 277.0L1083.1 279.1L1083.7 279.5L1084.3 277.1L1084.9 276.6L1085.5 277.5L1086.1 277.5L1086.8 278.9L1087.4 278.8L1088.0 280.6L1088.6 278.6L1089.2 278.7L1089.8 279.5L1090.4 275.3L1091.1 275.5L1091.7 274.6L1092.3 271.3L1092.9 270.0L1093.6 266.1L1094.3 264.0L1095.0 263.2L1095.7 261.4L1096.3 263.1L1096.9 259.7L1097.5 259.4L1098.2 257.7L1098.8 259.4L1099.4 259.3L1100.0 258.6L1100.6 259.2L1101.2 260.5L1101.8 260.8L1102.5 262.7L1103.1 261.5L1103.7 260.7L1104.3 261.4L1104.9 260.9L1105.5 260.5L1106.1 261.9L1106.8 260.2L1107.4 258.9L1108.0 257.8L1108.6 258.6L1109.2 258.7L1109.7 258.5L1110.3 262.2L1110.8 265.3L1111.4 267.1L1112.0 265.0L1112.6 261.6L1113.1 261.1L1113.7 259.4L1114.3 255.7L1114.9 256.6L1115.5 256.7L1116.1 255.7L1116.8 255.8L1117.4 255.9L1118.0 253.5L1118.6 254.3L1119.2 252.3L1119.9 251.2L1120.5 251.7L1121.1 247.5L1121.8 248.9L1122.4 248.8L1123.0 248.1L1123.7 248.2L1124.3 247.1L1124.9 246.0L1125.5 248.1L1126.1 248.3L1126.8 248.9L1127.4 252.4L1128.0 252.2L1128.6 252.9L1129.2 254.4L1129.8 253.6L1130.4 252.9L1131.1 252.4L1131.7 250.7L1132.3 251.3L1132.9 252.9L1133.5 252.3L1134.2 254.6L1134.8 254.8L1135.4 255.0L1136.1 252.7L1136.7 251.8L1137.3 252.9L1138.0 253.6L1138.6 252.9L1139.2 252.6L1139.8 255.4L1140.4 254.9L1141.1 256.3L1141.7 256.4L1142.3 258.5L1142.9 258.6L1143.6 259.2L1144.3 258.9L1145.0 255.6L1145.7 255.0L1146.4 257.0L1147.1 252.9L1147.7 254.4L1148.4 254.0L1149.0 253.3L1149.7 252.0L1150.3 254.3L1151.0 255.2L1151.6 252.5L1152.3 252.7L1152.9 251.4L1153.5 254.7L1154.2 254.0L1154.8 253.2L1155.4 254.1L1156.1 254.4L1156.7 251.8L1157.3 251.2L1158.0 254.3L1158.6 252.9L1159.2 253.1L1159.9 253.2L1160.5 252.5L1161.1 255.7L1161.8 253.1L1162.4 253.8L1163.0 253.5L1163.7 253.5L1164.3 254.3L1164.9 253.3L1165.5 254.3L1166.1 256.1L1166.8 258.1L1167.4 256.7L1168.0 259.2L1168.6 261.4L1169.1 259.2L1169.5 259.5L1170.0 260.0L1170.5 259.4L1170.9 260.3L1171.4 261.4L1172.0 261.0L1172.6 262.2L1173.2 262.2L1173.9 260.0L1174.5 258.1L1175.1 258.5L1175.7 262.9L1176.3 261.0L1176.9 259.3L1177.5 259.3L1178.2 263.1L1178.8 261.9L1179.4 261.4L1180.0 261.4L1180.6 262.1L1181.3 263.2L1181.9 262.4L1182.5 263.0L1183.2 260.6L1183.8 262.8L1184.4 264.5L1185.1 262.3L1185.7 264.9L1186.3 263.7L1186.9 265.0L1187.5 258.8L1188.2 258.3L1188.8 259.6L1189.4 258.6L1190.0 255.7L1190.6 254.5L1191.2 252.7L1191.8 251.7L1192.5 252.1L1193.1 249.7L1193.7 247.1L1194.3 248.6L1194.9 247.3L1195.5 246.6L1196.1 249.5L1196.8 247.1L1197.4 247.6L1198.0 247.0L1198.6 247.1L1199.2 244.1L1199.8 243.7L1200.4 241.0L1201.1 242.5L1201.7 241.0L1202.3 239.5L1202.9 241.4L1203.6 237.8L1204.3 241.6L1205.0 242.2L1205.7 240.4L1206.4 240.7L1207.1 241.4L1207.7 241.9L1208.3 242.4L1208.9 241.9L1209.6 238.7L1210.2 242.4L1210.8 241.7L1211.4 241.4L1212.0 242.7L1212.6 239.0L1213.2 239.7L1213.9 240.3L1214.5 240.0L1215.1 236.1L1215.7 235.7L1216.3 236.2L1216.9 239.6L1217.5 238.6L1218.2 240.7L1218.8 241.0L1219.4 239.9L1220.0 242.9L1220.6 242.6L1221.2 243.3L1221.8 242.8L1222.5 241.7L1223.1 241.8L1223.7 237.5L1224.3 238.6L1224.9 236.0L1225.5 237.2L1226.1 235.3L1226.8 234.3L1227.4 231.2L1228.0 229.6L1228.6 227.1L1229.2 224.2L1229.7 223.8L1230.3 222.5L1230.8 220.0L1231.4 218.6L1232.0 217.2L1232.6 216.2L1233.2 215.2L1233.9 214.9L1234.5 214.5L1235.1 209.2L1235.7 210.0L1236.3 211.1L1236.9 214.7L1237.4 214.2L1238.0 216.1L1238.6 218.6L1239.2 221.2L1239.7 218.6L1240.3 219.4L1240.8 218.6L1241.4 217.1L1242.0 217.1L1242.6 218.9L1243.1 218.3L1243.7 220.8L1244.3 224.3L1244.9 224.8L1245.5 225.7L1246.1 225.8L1246.8 224.8L1247.4 226.1L1248.0 227.6L1248.6 225.7L1249.2 228.0L1249.8 228.6L1250.4 228.2L1251.1 228.1L1251.7 226.2L1252.3 228.8L1252.9 227.1L1253.6 226.8L1254.3 226.1L1255.0 226.1L1255.7 226.2L1256.4 229.3L1257.1 228.6L1257.7 225.9L1258.3 222.6L1258.8 219.5L1259.4 216.9L1260.0 214.3L1260.6 215.8L1261.2 216.9L1261.8 214.6L1262.5 216.3L1263.1 215.6L1263.7 214.7L1264.3 212.9L1264.9 216.1L1265.5 215.6L1266.1 215.9L1266.8 216.1L1267.4 214.7L1268.0 214.2L1268.6 217.1L1269.2 215.0L1269.8 215.5L1270.4 216.3L1271.1 217.0L1271.7 219.8L1272.3 219.9L1272.9 220.0L1273.6 222.7L1274.3 224.0L1275.0 223.6L1275.7 225.7L1276.3 224.0L1276.9 221.2L1277.5 219.0L1278.2 220.4L1278.8 219.9L1279.4 219.4L1280.0 218.6L1280.6 221.0L1281.2 219.6L1281.7 221.1L1282.3 219.6L1282.9 224.3L1283.6 225.2L1284.3 231.4L1285.0 233.6L1285.7 240.0L1286.3 235.9L1286.9 236.0L1287.5 238.3L1288.2 237.6L1288.8 235.5L1289.4 235.0L1290.0 232.9L1290.6 234.1L1291.2 233.7L1291.7 233.7L1292.3 235.3L1292.9 235.7L1293.6 236.8L1294.3 239.1L1295.0 239.0L1295.7 241.5L1296.4 241.6L1297.1 242.9L1297.7 243.6L1298.3 243.3L1298.8 240.4L1299.4 242.6L1300.0 238.6L1300.6 240.3L1301.2 237.8L1301.8 235.6L1302.5 236.2L1303.1 236.3L1303.7 234.9L1304.3 235.7L1304.9 233.3L1305.6 233.5L1306.2 232.6L1306.8 232.6L1307.5 232.1L1308.1 233.6L1308.7 230.1L1309.4 234.6L1310.0 233.5L1310.6 233.7L1311.2 234.2L1311.7 232.8L1312.3 235.7L1312.9 235.7L1313.6 236.1L1314.3 235.9L1315.0 235.2L1315.7 237.1L1316.3 234.0L1316.9 231.4L1317.4 227.1L1318.0 226.5L1318.6 221.4L1319.2 220.5L1319.7 221.7L1320.3 220.7L1320.8 217.7L1321.4 218.6L1322.0 216.6L1322.6 217.1L1323.2 215.6L1323.9 215.2L1324.5 214.3L1325.1 214.1L1325.7 212.9L1326.3 211.6L1326.9 213.9L1327.4 212.7L1328.0 213.3L1328.6 210.0L1329.2 212.2L1329.7 213.0L1330.3 212.4L1330.8 214.1L1331.4 215.7L1332.0 217.7L1332.6 217.4L1333.2 215.9L1333.9 215.5L1334.5 217.0L1335.1 216.8L1335.7 217.1L1336.3 220.5L1336.9 220.0L1337.5 219.8L1338.2 221.0L1338.8 223.1L1339.4 220.1L1340.0 221.4L1340.6 220.3L1341.2 220.2L1341.8 218.5L1342.5 220.2L1343.1 221.3L1343.7 223.3L1344.3 222.9L1345.0 226.5L1345.7 229.4L1346.4 231.9L1347.1 232.9L1347.7 233.4L1348.4 237.6L1349.0 237.9L1349.7 235.7L1350.3 234.0L1351.0 235.2L1351.6 236.7L1352.3 236.9L1352.9 235.7L1353.6 239.4L1354.3 241.8L1355.0 243.1L1355.7 242.9L1356.4 244.3L1357.1 247.1L1357.7 244.7L1358.3 248.1L1358.8 248.0L1359.4 249.2L1360.0 250.0L1360.6 253.3L1361.2 251.1L1361.8 251.4L1362.5 250.6L1363.1 249.0L1363.7 252.3L1364.3 252.9L1364.9 254.5L1365.5 256.3L1366.1 259.3L1366.8 260.4L1367.4 263.1L1368.0 266.1L1368.6 265.7L1369.2 265.0L1369.7 264.7L1370.3 263.6L1370.8 264.0L1371.4 261.4L1372.0 264.8L1372.6 260.5L1373.2 261.4L1373.9 259.5L1374.5 258.9L1375.1 257.8L1375.7 255.7L1376.3 252.2L1376.9 246.2L1377.4 242.9L1378.0 238.1L1378.6 235.7L1379.2 236.7L1379.8 236.5L1380.4 234.9L1381.1 234.3L1381.7 235.9L1382.3 233.1L1382.9 234.3L1383.6 234.1L1384.3 234.7L1385.0 233.7L1385.7 236.0L1386.4 235.3L1387.1 235.7L1387.7 236.5L1388.3 235.5L1388.8 233.6L1389.4 233.1L1390.0 232.9L1390.6 235.5L1391.2 235.0L1391.7 235.7L1392.3 237.7L1392.9 240.0L1393.6 239.6L1394.3 239.6L1395.0 237.0L1395.7 235.1L1396.4 235.2L1397.1 235.7L1397.7 232.3L1398.3 230.7L1398.9 226.2L1399.6 224.1L1400.2 221.0L1400.8 222.0L1401.4 218.6L1402.0 215.1L1402.6 213.8L1403.1 213.2L1403.7 210.6L1404.3 212.9L1405.0 212.0L1405.7 213.5L1406.4 213.9L1407.1 218.6L1407.6 213.9L1408.1 214.4L1408.6 211.4L1409.1 210.4L1409.5 210.6L1410.0 207.1" fill="none" stroke="#000" stroke-width="2.8" stroke-linejoin="round" stroke-linecap="round"/>
<!-- /DATA -->
<!-- footer -->
<text x="48.5" y="862.5" font-size="19.6" fill="#7a7a7a">© 2025 Glassnode. All Rights Reserved.</text>
<use href="#gn" stroke="#d6d6d6" transform="translate(1220.9 729.4) scale(0.2771)"/>
</svg>
</body></html>
